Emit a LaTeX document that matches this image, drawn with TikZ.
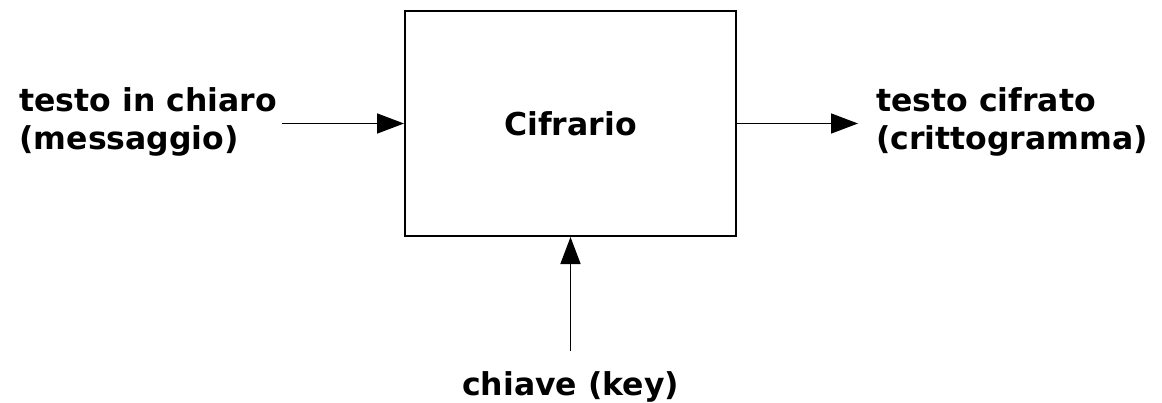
\documentclass[tikz,border=0pt]{standalone}
\usepackage{fontspec}
\setmainfont{DejaVu Sans}
\usetikzlibrary{arrows.meta,positioning}

\begin{document}
\begin{tikzpicture}[x=1pt,y=-1pt,font=\bfseries\fontsize{31.5}{38}\selectfont,
  >={Triangle[length=27pt,width=20pt]},inner sep=0pt]
	\useasboundingbox (0,0) rectangle (1162,402);
	\node[draw,line width=2pt,minimum width=331pt,minimum height=225pt] (cif) at (570.5,123.5) {Cifrario};
	\coordinate[left=122pt of cif.west] (pin);
	\coordinate[right=121pt of cif.east] (pout);
	\coordinate[below=114pt of cif.south] (kin);
	\node[align=left,yshift=2pt] (chiaro) [left=5pt of pin] {testo in chiaro\\(messaggio)};
	\node[align=left,yshift=2pt] (cifrato) [right=18pt of pout] {testo cifrato\\(crittogramma)};
	\node (chiave) [below=20pt of kin] {chiave (key)};
	\path[->,line width=1.6pt]
	(pin) edge (cif.west)
	(cif.east) edge (pout)
	(kin) edge (cif.south);
\end{tikzpicture}
\end{document}
